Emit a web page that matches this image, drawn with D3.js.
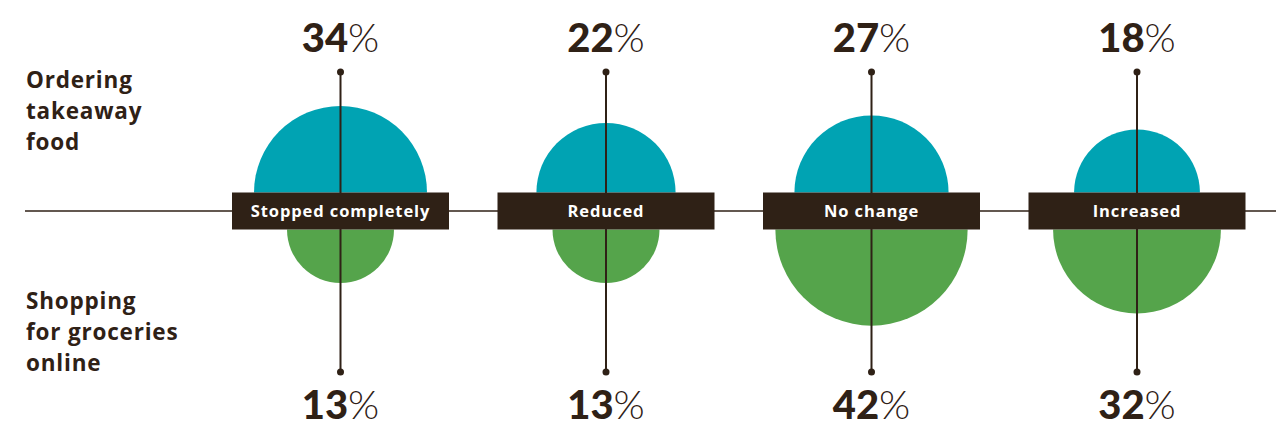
<!DOCTYPE html>
<html>
<head>
<meta charset="utf-8">
<script src="https://cdn.jsdelivr.net/npm/d3@7"></script>
<style>
  html, body { margin: 0; padding: 0; background: #fff; }
  svg { display: block; }
  text { font-family: Lato, "Open Sans", sans-serif; }
</style>
</head>
<body>
<svg id="chart" width="1276" height="428"></svg>
<script>
const categories = ["Stopped completely", "Reduced", "No change", "Increased"];
const takeawayValues = [34, 22, 27, 18];
const groceryValues = [13, 13, 42, 32];
const rowLabelTop = ["Ordering", "takeaway", "food"];
const rowLabelBottom = ["Shopping", "for groceries", "online"];

const W = 1276, H = 428;
const dark = "#2f2116";
const teal = "#00a3b3";
const green = "#55a44b";
const labelFont = "'Open Sans', Lato, sans-serif";

const svg = d3.select("#chart");

const x = d3.scalePoint().domain(categories).range([340.5, 1137]);
const r = d3.scaleSqrt().domain([0, 34]).range([0, 86.5]);

const baseY = 211, boxH = 37, boxW = 217;
const topY = baseY - boxH / 2, botY = baseY + boxH / 2;

// baseline
svg.append("line")
  .attr("x1", 25).attr("x2", W)
  .attr("y1", baseY).attr("y2", baseY)
  .attr("stroke", dark).attr("stroke-width", 1.5);

const arcTop = d3.arc().innerRadius(0).startAngle(-Math.PI / 2).endAngle(Math.PI / 2);
const arcBot = d3.arc().innerRadius(0).startAngle(Math.PI / 2).endAngle(Math.PI * 1.5);

const g = svg.selectAll("g.cat")
  .data(categories.map((c, i) => ({ c, t: takeawayValues[i], b: groceryValues[i] })))
  .join("g").attr("class", "cat")
  .attr("transform", d => `translate(${x(d.c)},0)`);

g.append("path")
  .attr("transform", `translate(0,${topY})`)
  .attr("d", d => arcTop({ outerRadius: r(d.t) }))
  .attr("fill", teal);

g.append("path")
  .attr("transform", `translate(0,${botY})`)
  .attr("d", d => arcBot({ outerRadius: r(d.b) }))
  .attr("fill", green);

// stems
g.append("line")
  .attr("x1", 0).attr("x2", 0)
  .attr("y1", 72).attr("y2", 372)
  .attr("stroke", dark).attr("stroke-width", 2);
g.append("circle").attr("cx", 0).attr("cy", 72).attr("r", 3.5).attr("fill", dark);
g.append("circle").attr("cx", 0).attr("cy", 372).attr("r", 3.5).attr("fill", dark);

// label boxes
g.append("rect")
  .attr("x", -boxW / 2).attr("y", topY)
  .attr("width", boxW).attr("height", boxH)
  .attr("fill", dark);
g.append("text")
  .attr("y", baseY + 6)
  .attr("text-anchor", "middle")
  .attr("fill", "#ffffff")
  .style("font-family", labelFont)
  .attr("font-size", 16.5)
  .attr("font-weight", 700)
  .attr("letter-spacing", 0.9)
  .text(d => d.c);

// value labels
function valueLabel(sel, y, acc) {
  const t = sel.append("text")
    .attr("y", y)
    .attr("text-anchor", "middle")
    .attr("fill", dark)
    .attr("font-size", 40);
  t.append("tspan").attr("font-weight", 900).text(acc);
  t.append("tspan").attr("font-weight", 300).text("%");
}
valueLabel(g, 52, d => d.t);
valueLabel(g, 419, d => d.b);

// row labels
function rowLabel(lines, y0) {
  const t = svg.append("text")
    .attr("x", 26).attr("y", y0)
    .attr("fill", dark)
    .style("font-family", labelFont)
    .attr("font-size", 22.5)
    .attr("font-weight", 700)
    .attr("letter-spacing", 0.8);
  t.selectAll("tspan").data(lines).join("tspan")
    .attr("x", 26)
    .attr("dy", (d, i) => i === 0 ? 0 : 31)
    .text(d => d);
}
rowLabel(rowLabelTop, 88);
rowLabel(rowLabelBottom, 309);
</script>
</body>
</html>
